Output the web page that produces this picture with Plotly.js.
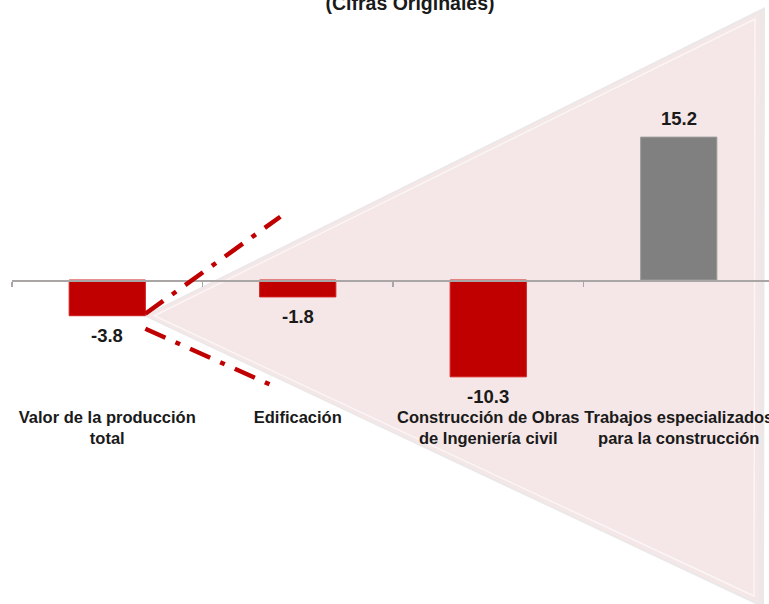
<!DOCTYPE html>
<html>
<head>
<meta charset="utf-8">
<script src="https://cdn.plot.ly/plotly-3.0.1.min.js"></script>
<style>html,body{margin:0;padding:0;background:#fff;}#chart{width:769px;height:604px;}</style>
</head>
<body>
<div id="chart"></div>
<script>
// ---- data ----
const categories = ['Valor de la producción<br>total', 'Edificación', 'Construcción de Obras<br>de Ingeniería civil', 'Trabajos especializados<br>para la construcción'];
const values = [-3.8, -1.8, -10.3, 15.2];
const valueLabels = ['-3.8', '-1.8', '-10.3', '15.2'];
const barColors = ['#c00000', '#c00000', '#c00000', '#808080'];
const barEdgeColors = ['#d21c1c', '#d21c1c', '#d21c1c', '#9a9a9a'];
const titleText = '(Cifras Originales)';

// ---- layout geometry ----
const W = 769, H = 604, L = 12, Y0 = 280, K = 9.4, CAT = 190.5, BAR_W = 0.4;
const xrange = [-0.5, -0.5 + (W - L) / CAT];
const yrange = [-(H - Y0) / K, Y0 / K];
const dx = px => -0.5 + (px - L) / CAT;
const dy = py => (Y0 - py) / K;

// apex of the decorative wedge sits on the first bar's lower-right corner
const apx = L + (0.5 + BAR_W / 2) * CAT;
const apy = Y0 - values[0] * K;

function tri(pts) {
  return 'M ' + pts.map(p => dx(p[0]) + ',' + dy(p[1])).join(' L ') + ' Z';
}

const shapes = [
  {type: 'path', xref: 'x', yref: 'y', layer: 'below', line: {width: 0},
   fillcolor: '#ece8e8', path: tri([[apx - 2, apy], [765, 7], [764, 608]])},
  {type: 'path', xref: 'x', yref: 'y', layer: 'below', line: {width: 0},
   fillcolor: '#f5e7e7', path: tri([[apx + 2, apy], [760, 12], [759, 603]])},
  {type: 'path', xref: 'x', yref: 'y', layer: 'below', line: {width: 1.5, color: 'rgba(255,255,255,0.6)'},
   fillcolor: 'rgba(0,0,0,0)', path: tri([[apx + 9, apy], [755, 19], [754, 596]])},
  {type: 'line', xref: 'x', yref: 'y', layer: 'above',
   x0: dx(apx), y0: dy(apy - 2), x1: dx(apx + 135), y1: dy(apy - 99),
   line: {color: '#c00000', width: 4.5, dash: '22px,11px,5px,11px'}},
  {type: 'line', xref: 'x', yref: 'y', layer: 'above',
   x0: dx(apx), y0: dy(apy + 13), x1: dx(apx + 134), y1: dy(apy + 73),
   line: {color: '#c00000', width: 4.5, dash: '22px,11px,5px,11px'}}
];

const annotations = values.map((v, i) => ({
  x: categories[i], y: v, xref: 'x', yref: 'y', text: '<b>' + valueLabels[i] + '</b>',
  showarrow: false, yanchor: v >= 0 ? 'bottom' : 'top', yshift: v >= 0 ? 6 : -7,
  font: {family: 'Arial, Liberation Sans, sans-serif', size: 18.5, color: '#1a1a1a'}
}));

const traces = [
  {type: 'bar', x: categories, y: values, width: BAR_W, xaxis: 'x', yaxis: 'y',
   marker: {color: barColors, line: {color: barEdgeColors, width: 1}}, hoverinfo: 'skip'},
  {type: 'scatter', mode: 'markers', x: categories, y: values, xaxis: 'x2', yaxis: 'y',
   marker: {opacity: 0}, hoverinfo: 'skip'}
];

const layout = {
  width: W, height: H,
  margin: {l: L, r: 0, t: 0, b: 0, pad: 0},
  paper_bgcolor: '#ffffff', plot_bgcolor: '#ffffff',
  showlegend: false,
  title: {text: '<b>' + titleText + '</b>', xref: 'container', yref: 'container',
          x: 410 / W, xanchor: 'center', y: 1 - 3 / H, yanchor: 'middle',
          font: {family: 'Arial, Liberation Sans, sans-serif', size: 19.5, color: '#1a1a1a'}},
  xaxis: {type: 'category', categoryarray: categories, range: xrange, anchor: 'free',
          position: (H - 405) / H, showline: false, ticks: '', showgrid: false, zeroline: false,
          tickfont: {family: 'Arial, Liberation Sans, sans-serif', size: 16.5, color: '#1a1a1a', weight: 'bold'}},
  xaxis2: {type: 'category', categoryarray: categories, range: xrange, overlaying: 'x', anchor: 'free',
           position: (H - Y0) / H, showline: true, linecolor: '#aaa6a6', linewidth: 1.5,
           ticks: 'outside', tickson: 'boundaries', ticklen: 5, tickcolor: '#aaa6a6', tickwidth: 1.5,
           showticklabels: false, showgrid: false, zeroline: false},
  yaxis: {range: yrange, visible: false, showgrid: false, zeroline: false},
  shapes: shapes,
  annotations: annotations
};

Plotly.newPlot('chart', traces, layout, {displayModeBar: false, staticPlot: true});
</script>
</body>
</html>
